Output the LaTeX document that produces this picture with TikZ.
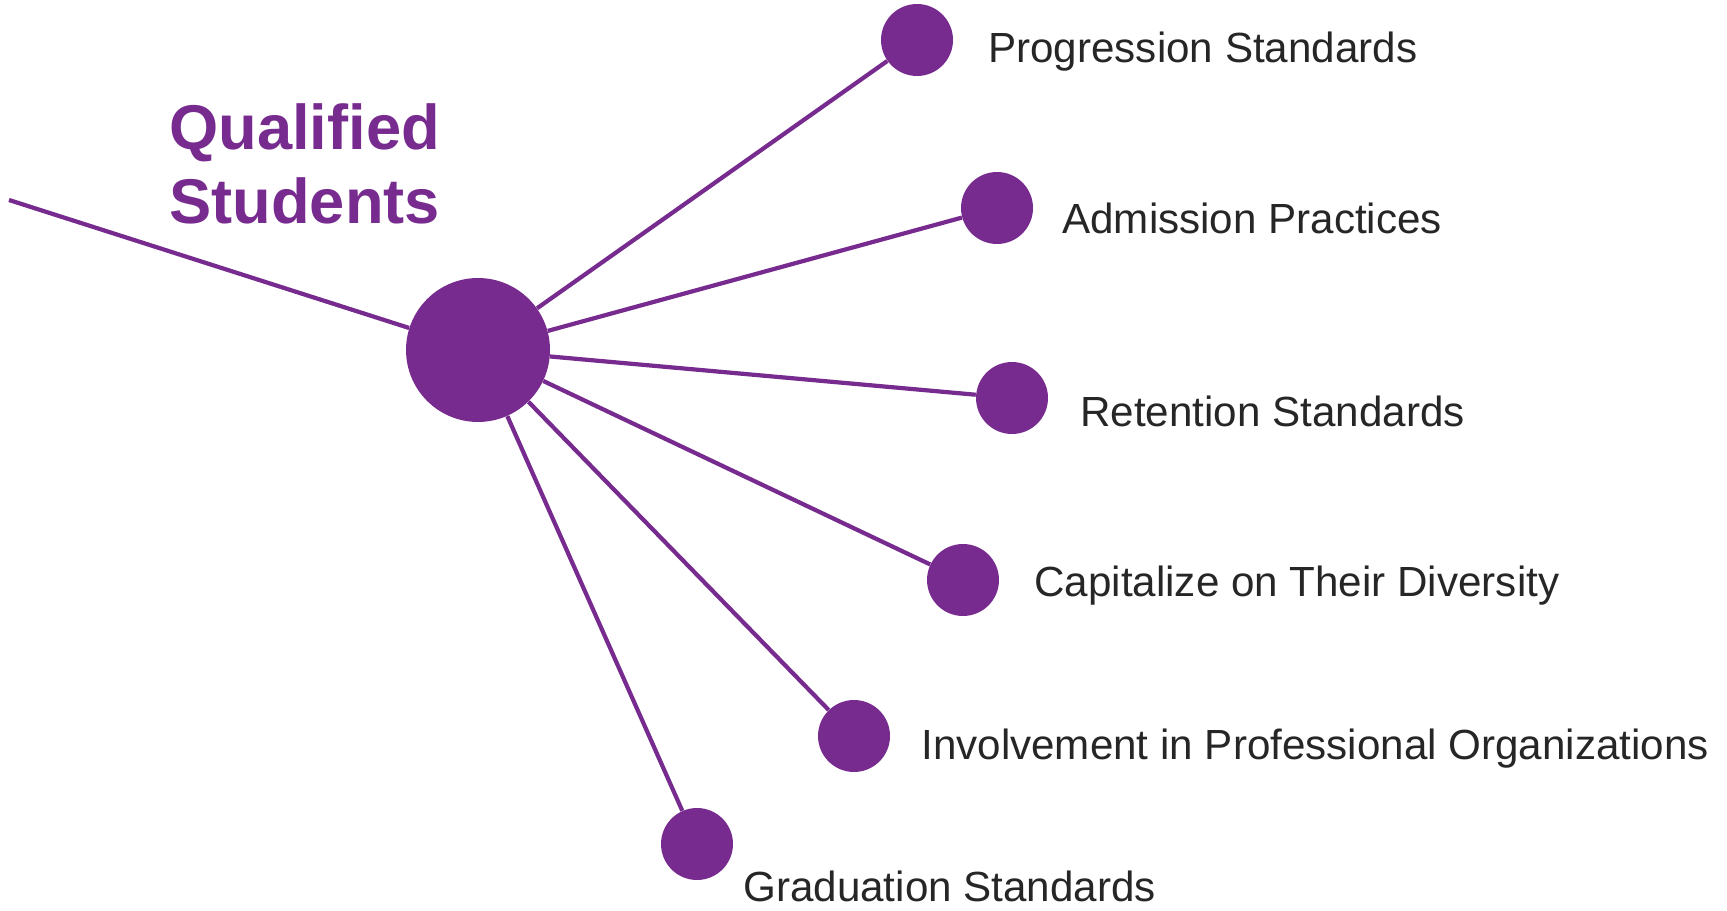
\documentclass[tikz,border=0pt]{standalone}
\usepackage{fontspec}
\setmainfont{Liberation Sans}
\definecolor{qspurple}{RGB}{119,43,143}
\definecolor{qsgray}{RGB}{38,38,38}
\tikzset{
  spoke/.style={draw=qspurple,line width=2.4pt},
  hubdot/.style={circle,fill=qspurple,minimum size=2.88cm,inner sep=0pt},
  leafdot/.style={circle,fill=qspurple,minimum size=1.44cm,inner sep=0pt},
  leaflabel/.style={anchor=base west,inner sep=0pt,text=qsgray,font=\fontsize{24}{28}\selectfont}
}
\begin{document}
\begin{tikzpicture}[x=0.02cm,y=-0.02cm]
      \useasboundingbox (0,0) rectangle (1727,911);

      \node[anchor=north west,inner sep=0pt,align=left,text=qspurple,
        font=\bfseries\fontsize{36}{42.5}\selectfont] (title) at (169,103) {Qualified\\Students};

      \coordinate (entry) at (9,200);
      \node[hubdot] (hub) at (478,350) {};

      \node[leafdot] (prog) at (917,40) {};
      \node[leafdot] (adm) at (997,208) {};
      \node[leafdot] (ret) at (1012,398) {};
      \node[leafdot] (cap) at (963,580) {};
      \node[leafdot] (inv) at (854,736) {};
      \node[leafdot] (grad) at (697,844) {};

      \draw[spoke] (entry) -- (hub);
      \foreach \leaf in {prog,adm,ret,cap,inv,grad}
        \draw[spoke] (hub) -- (\leaf);

      \node[leaflabel] (proglbl) at (988,63) {Progression Standards};
      \node[leaflabel] (admlbl) at (1062,234) {Admission Practices};
      \node[leaflabel] (retlbl) at (1080,427) {Retention Standards};
      \node[leaflabel] (caplbl) at (1034,597) {Capitalize on Their Diversity};
      \node[leaflabel] (invlbl) at (921,759) {Involvement in Professional Organizations};
      \node[leaflabel] (gradlbl) at (743,901) {Graduation Standards};
    \end{tikzpicture}
\end{document}
